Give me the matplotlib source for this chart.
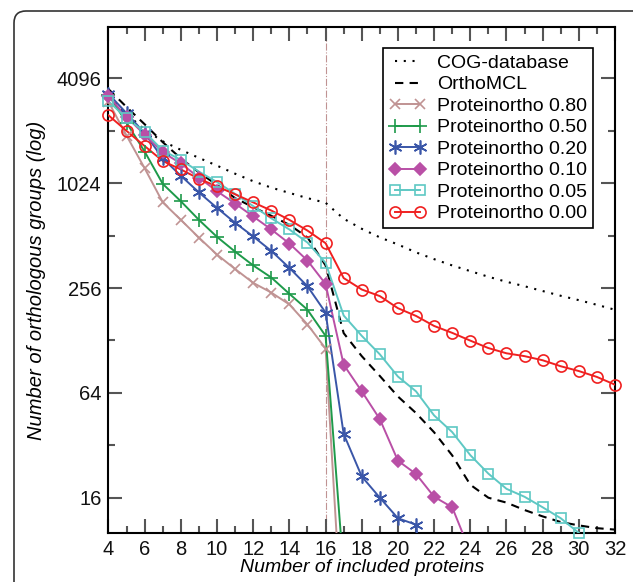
import matplotlib
matplotlib.use("Agg")
import matplotlib.pyplot as plt
from matplotlib.lines import Line2D
from matplotlib.patches import FancyBboxPatch
from matplotlib.transforms import IdentityTransform
from matplotlib.ticker import FixedLocator, NullFormatter

plt.rcParams['font.family'] = ['Liberation Sans', 'DejaVu Sans']

x_all = list(range(4, 33))

cog = [3200, 2550, 2080, 1780, 1590, 1430, 1290, 1160, 1050, 965, 900, 840, 790,
       640, 560, 500, 455, 410, 375, 345, 320, 297, 278, 262, 246, 231, 218, 205, 192]

orthomcl = [3550, 2800, 2230, 1760, 1420, 1180, 1000, 840, 745, 665, 590, 500, 345,
            141, 104, 80, 61, 49, 38, 28, 19, 16, 15, 13.6, 12.5, 11.6, 11.1, 10.7, 10.5]

p080_x = list(range(4, 18))
p080 = [3000, 1918, 1246, 794, 630, 498, 398, 329, 274, 241, 206, 158, 115, 2]

p050_x = list(range(4, 18))
p050 = [3300, 2276, 1553, 1014, 806, 630, 503, 414, 345, 294, 237, 192, 136, 6]

p020_x = list(range(4, 23))
p020 = [3333, 2580, 1981, 1420, 1129, 906, 738, 606, 506, 418, 334, 262, 185,
        37.2, 21.2, 16, 12.2, 11.2, 1]

p010_x = list(range(4, 25))
p010 = [3240, 2450, 1946, 1538, 1328, 1102, 920, 782, 659, 555, 461, 368, 270,
        92.9, 65.3, 45.2, 26.1, 21.9, 16.2, 14.1, 7.8]

p005_x = list(range(4, 31))
p005 = [3023, 2414, 2013, 1576, 1394, 1192, 1039, 888, 756, 643, 555, 467, 357,
        178, 136, 106.5, 79.4, 65.3, 47.5, 38.1, 28.1, 22, 18, 16.2, 14.1, 12.2, 10.05]

p000_x = list(range(4, 33))
p000 = [2510, 2043, 1672, 1373, 1227, 1086, 980, 884, 794, 713, 630, 547, 463,
        292, 251, 230, 196, 177, 155, 141.5, 127.7, 115.7, 108, 104, 98.5, 91, 85.4, 79, 71.3]

y_major = [16, 64, 256, 1024, 4096]
y_minor = [32, 128, 512, 2048]
x_major = list(range(4, 33, 2))
x_minor = list(range(5, 33, 2))

YMIN, YMAX = 10, 8100

fig = plt.figure(figsize=(6.33, 5.82), dpi=100)
ax = fig.add_axes([0.1714, 0.0837, 0.8002, 0.8704])

ax.set_yscale('log', base=2)
ax.set_xlim(4, 32)
ax.set_ylim(YMIN, YMAX)

ax.axvline(16, color='#c09393', lw=0.8, ls='-.', zorder=1)

ax.plot(x_all, cog, color='black', lw=1.5, ls=(0, (1, 3.2)), zorder=2)
ax.plot(x_all, orthomcl, color='black', lw=1.5, ls=(0, (4, 3)), zorder=2)

series = [
    (p080_x, p080, '#c09393', 'x', 7, 'full'),
    (p050_x, p050, '#1e9a4a', '+', 10, 'full'),
    (p020_x, p020, '#3a56a8', (6, 2, 0), 10, 'full'),
    (p010_x, p010, '#b94fa6', 'D', 6.5, 'full'),
    (p005_x, p005, '#5ec8c4', 's', 7, 'none'),
    (p000_x, p000, '#f02020', 'o', 8, 'none'),
]
for xs, ys, c, m, ms, fs in series:
    ax.plot(xs, ys, color=c, lw=1.4, zorder=3)
    vx = [a for a, b in zip(xs, ys) if YMIN * 0.99 <= b <= YMAX]
    vy = [b for b in ys if YMIN * 0.99 <= b <= YMAX]
    ax.plot(vx, vy, ls='none', marker=m, ms=ms, color=c, fillstyle=fs,
            mew=1.2, clip_on=False, zorder=4)

ax.yaxis.set_major_locator(FixedLocator(y_major))
ax.yaxis.set_minor_locator(FixedLocator(y_minor))
ax.set_yticklabels([str(v) for v in y_major])
ax.yaxis.set_minor_formatter(NullFormatter())
ax.xaxis.set_major_locator(FixedLocator(x_major))
ax.xaxis.set_minor_locator(FixedLocator(x_minor))
ax.set_xticklabels([str(v) for v in x_major])

ax.tick_params(which='both', direction='in', top=True, right=True, color='#555555', width=1.5,
               labelsize=14.5, labelcolor='#111111')
ax.tick_params(which='major', length=10, pad=5)
ax.tick_params(which='minor', length=5)
for s in ax.spines.values():
    s.set_linewidth(1.5)
    s.set_color('black')

ax.set_xlabel('Number of included proteins', fontsize=14, style='italic', labelpad=0)
ax.set_ylabel('Number of orthologous groups (log)', fontsize=14.5, style='italic', labelpad=8)

handles = [
    Line2D([], [], color='black', lw=1.5, ls=(0, (1, 3.2))),
    Line2D([], [], color='black', lw=1.5, ls=(0, (4, 3))),
]
for xs, ys, c, m, ms, fs in series:
    handles.append(Line2D([], [], color=c, lw=1.4, marker=m, ms=ms, fillstyle=fs, mew=1.2))
labels = ['COG-database', 'OrthoMCL', 'Proteinortho 0.80', 'Proteinortho 0.50',
          'Proteinortho 0.20', 'Proteinortho 0.10', 'Proteinortho 0.05', 'Proteinortho 0.00']
leg = ax.legend(handles, labels, loc='upper right', bbox_to_anchor=(0.957, 0.957),
                borderaxespad=0, fontsize=14, numpoints=2, handlelength=1.9,
                handletextpad=0.6, labelspacing=0.2, borderpad=0.3,
                fancybox=False, framealpha=1, edgecolor='black')
leg.get_frame().set_linewidth(1.2)

frame = FancyBboxPatch((14, -30), 680, 582 - 11 + 30,
                       boxstyle='round,pad=0,rounding_size=12',
                       transform=IdentityTransform(), fill=False,
                       edgecolor='#333333', lw=1.2)
fig.patches.append(frame)

fig.savefig('out.png', dpi=100)
